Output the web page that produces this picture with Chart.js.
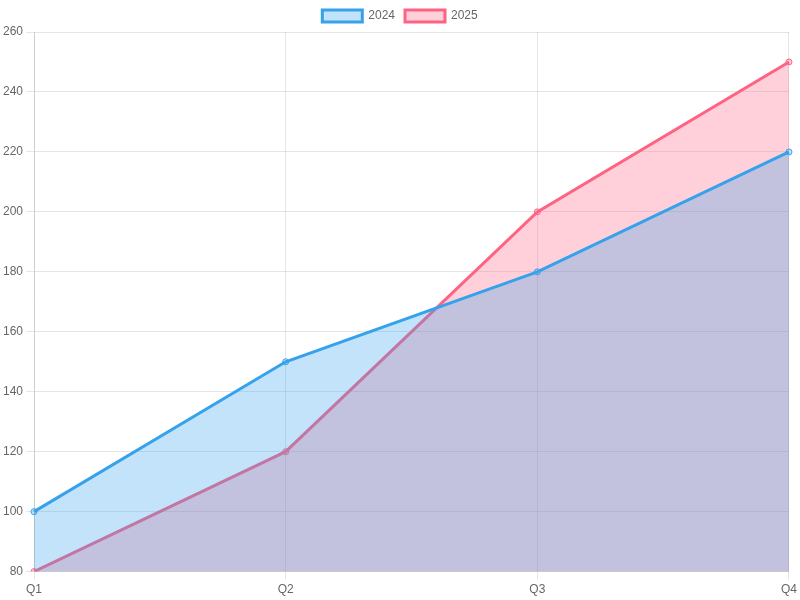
<!DOCTYPE html>
<html>
<head>
<meta charset="utf-8">
<script src="https://cdn.jsdelivr.net/npm/chart.js@4"></script>
<style>
  html, body { margin: 0; padding: 0; background: #fff; }
  #wrap { width: 800px; height: 600px; }
</style>
</head>
<body>
<div id="wrap"><canvas id="chart"></canvas></div>
<script>
const quarters = ['Q1', 'Q2', 'Q3', 'Q4'];
const sales2024 = [100, 150, 180, 220];
const sales2025 = [80, 120, 200, 250];

Chart.defaults.font.family = '"Liberation Sans", Helvetica, Arial, sans-serif';
Chart.defaults.font.size = 12;

new Chart(document.getElementById('chart'), {
    type: 'line',
    data: {
        labels: quarters,
        datasets: [
            {
                label: '2024',
                data: sales2024,
                borderColor: 'rgb(54, 162, 235)',
                backgroundColor: 'rgba(54, 162, 235, 0.3)',
                fill: true,
                borderWidth: 3,
                pointRadius: 3,
                pointBorderWidth: 1
            },
            {
                label: '2025',
                data: sales2025,
                borderColor: 'rgb(255, 99, 132)',
                backgroundColor: 'rgba(255, 99, 132, 0.3)',
                fill: true,
                borderWidth: 3,
                pointRadius: 3,
                pointBorderWidth: 1
            }
        ]
    },
    options: {
        responsive: true, maintainAspectRatio: false,
        animation: false,
        scales: {
            y: { min: 80, max: 260, ticks: { stepSize: 20 } }
        }
    }
});
</script>
</body>
</html>
